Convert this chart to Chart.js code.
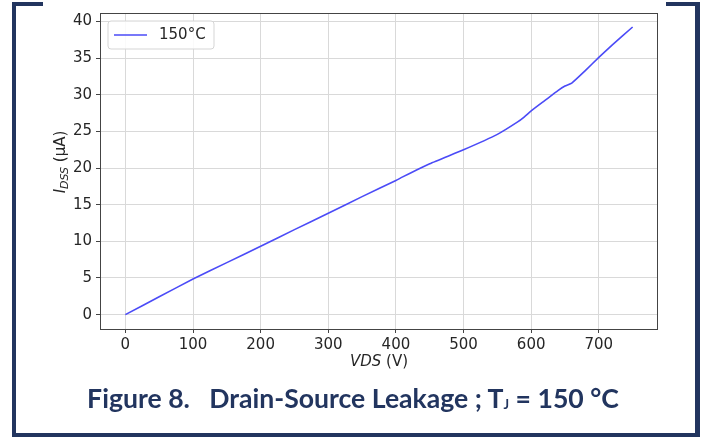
<!DOCTYPE html>
<html>
<head>
<meta charset="utf-8">
<script src="https://cdn.jsdelivr.net/npm/chart.js@4"></script>
<style>
  html, body { margin: 0; padding: 0; background: #fff; }
  body { width: 703px; height: 437px; position: relative; overflow: hidden; }
  #wrap { position: absolute; left: 0; top: 0; width: 703px; height: 437px; }
  .bar { position: absolute; background: #22355f; }
  #caption {
    position: absolute; left: 0; width: 706px; top: 382px;
    text-align: center; white-space: pre;
    font-family: Lato, "Open Sans", sans-serif; font-weight: bold;
    font-size: 26.6px; color: #22355f;
  }
  #caption sub { font-size: 13px; vertical-align: baseline; position: relative; top: 1px; }
</style>
</head>
<body>
<div id="wrap"><canvas id="leakChart" width="703" height="437"></canvas></div>
<div class="bar" style="left:12px;top:2px;width:4px;height:435px"></div>
<div class="bar" style="left:12px;top:2px;width:31px;height:4px"></div>
<div class="bar" style="left:666px;top:2px;width:34px;height:4px"></div>
<div class="bar" style="left:695px;top:2px;width:5px;height:435px"></div>
<div class="bar" style="left:12px;top:433px;width:688px;height:4px"></div>
<div id="caption">Figure 8.   Drain-Source Leakage ; T<sub>J</sub> = 150 °C</div>
<script>
// data: drain voltage (V) and leakage current (uA)
const vds = [0, 50, 100, 150, 200, 250, 300, 350, 400, 410, 450, 500, 550, 580, 590, 600, 620, 640, 650, 660, 680, 700, 720, 750];
const idss = [0, 2.43, 4.86, 7.1, 9.33, 11.6, 13.84, 16.1, 18.3, 18.8, 20.6, 22.5, 24.6, 26.3, 27.0, 27.8, 29.2, 30.6, 31.2, 31.6, 33.3, 35.1, 36.8, 39.25];
const seriesLabel = '150°C';
const lineColor = '#4b4bf7';

document.addEventListener('DOMContentLoaded', () => {
  const ctx = document.getElementById('leakChart').getContext('2d');

  // frame, legend box and the two axis titles with sub/italic parts
  const decorations = {
    id: 'decorations',
    afterDraw(chart) {
      const c = chart.ctx;
      const a = chart.chartArea;
      c.save();
      c.strokeStyle = '#444';
      c.lineWidth = 1;
      c.strokeRect(a.left + 0.5, a.top + 0.5, a.right - a.left - 1, a.bottom - a.top);

      // legend
      const lx = a.left + 8, ly = a.top + 8, lw = 106, lh = 28;
      c.beginPath();
      c.roundRect(lx, ly, lw, lh, 3);
      c.fillStyle = 'rgba(255,255,255,0.85)';
      c.fill();
      c.strokeStyle = '#d5d5d5';
      c.stroke();
      c.beginPath();
      c.moveTo(lx + 6, ly + 14);
      c.lineTo(lx + 39, ly + 14);
      c.strokeStyle = lineColor;
      c.lineWidth = 1.5;
      c.stroke();
      c.fillStyle = '#262626';
      c.font = '15px "DejaVu Sans"';
      c.textBaseline = 'middle';
      c.fillText(seriesLabel, lx + 51, ly + 14.5);

      // x title: VDS (V)
      c.textBaseline = 'alphabetic';
      const xt1 = 'VDS', xt2 = ' (V)';
      c.font = 'italic 15px "DejaVu Sans"';
      const w1 = c.measureText(xt1).width;
      c.font = '15px "DejaVu Sans"';
      const w2 = c.measureText(xt2).width;
      let x0 = (a.left + a.right) / 2 - (w1 + w2) / 2;
      c.font = 'italic 15px "DejaVu Sans"';
      c.fillText(xt1, x0, 366);
      c.font = '15px "DejaVu Sans"';
      c.fillText(xt2, x0 + w1, 366);

      // y title: I_DSS (uA)
      c.translate(65, 162);
      c.rotate(-Math.PI / 2);
      c.font = 'italic 15px "DejaVu Sans"';
      const p1 = c.measureText('I').width;
      c.font = 'italic 11px "DejaVu Sans"';
      const p2 = c.measureText('DSS').width;
      c.font = '15px "DejaVu Sans"';
      const p3 = c.measureText(' (µA)').width;
      let s = -(p1 + p2 + p3) / 2;
      c.font = 'italic 15px "DejaVu Sans"';
      c.fillText('I', s, 0);
      c.font = 'italic 11px "DejaVu Sans"';
      c.fillText('DSS', s + p1, 3);
      c.font = '15px "DejaVu Sans"';
      c.fillText(' (µA)', s + p1 + p2, 0);
      c.restore();
    }
  };

  new Chart(ctx, {
    type: 'line',
    data: {
      datasets: [
        {
          label: seriesLabel,
          data: vds.map((v, i) => ({ x: v, y: idss[i] })),
          borderColor: lineColor,
          borderWidth: 1.6,
          pointRadius: 0,
          tension: 0.15,
          fill: false,
        },
      ],
    },
    options: {
      responsive: false,
      animation: false,
      layout: { padding: { left: 0, top: 12, right: 45, bottom: 0 } },
      plugins: {
        legend: { display: false },
        tooltip: { enabled: false },
      },
      scales: {
        x: {
          type: 'linear',
          min: -37.5,
          max: 787.5,
          afterFit: (scale) => { scale.height = 108; },
          border: { display: false },
          grid: { color: '#d9d9d9', tickColor: '#444', tickLength: 4 },
          ticks: {
            stepSize: 100,
            includeBounds: false,
            color: '#262626',
            font: { family: 'DejaVu Sans', size: 15 },
            padding: 3,
            maxRotation: 0,
          },
        },
        y: {
          min: -1.96,
          max: 41.16,
          afterFit: (scale) => { scale.width = 100; },
          border: { display: false },
          grid: { color: '#d9d9d9', tickColor: '#444', tickLength: 4 },
          ticks: {
            stepSize: 5,
            includeBounds: false,
            color: '#262626',
            font: { family: 'DejaVu Sans', size: 15 },
            padding: 4,
          },
        },
      },
    },
    plugins: [decorations],
  });
});
</script>
</body>
</html>
